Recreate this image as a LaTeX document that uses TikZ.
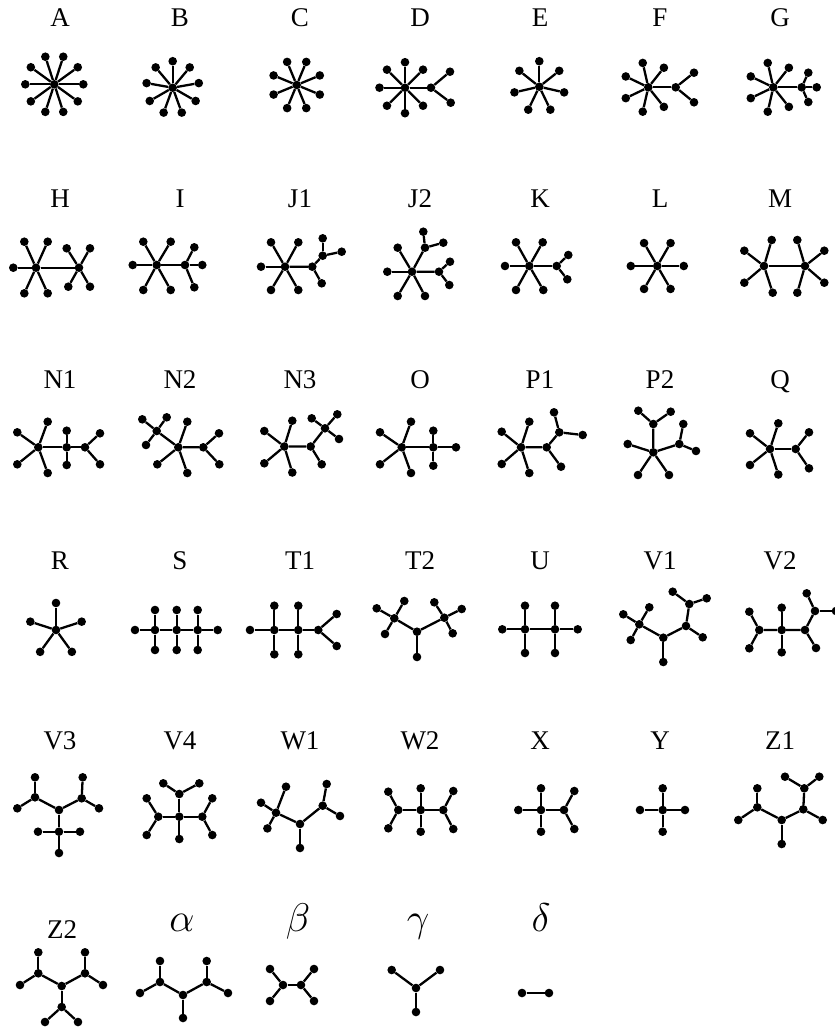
\RequirePackage{fix-cm}
\documentclass[tikz,border=0pt]{standalone}
\usepackage{fontspec}
\setmainfont{Liberation Serif}
\usetikzlibrary{calc}

\newcommand{\leafset}[2]{%
  \foreach \p [count=\i] in {#2} {\node[v] (#1\i) at \p {}; \draw[e] (#1) -- (#1\i);}}

\begin{document}
\begin{tikzpicture}[x=1pt,y=-1pt,v/.style={circle,fill=black,inner sep=0pt,minimum size=8.6pt},e/.style={line width=2.3pt},lab/.style={anchor=base,font=\fontsize{27}{30}\selectfont},glab/.style={anchor=base,font=\fontsize{40}{44}\selectfont}]
  \fill[white] (0,0) rectangle (835,1029);
  \useasboundingbox (0,0) rectangle (835,1029);
  \foreach \t [count=\i from 0] in {A,B,C,D,E,F,G} \node[lab] (l\t) at (60+120*\i,26) {\t};
  \foreach \t [count=\i from 0] in {H,I,J1,J2,K,L,M} \node[lab] (l\t) at (60+120*\i,207) {\t};
  \foreach \t [count=\i from 0] in {N1,N2,N3,O,P1,P2,Q} \node[lab] (l\t) at (60+120*\i,388) {\t};
  \foreach \t [count=\i from 0] in {R,S,T1,T2,U,V1,V2} \node[lab] (l\t) at (60+120*\i,569) {\t};
  \foreach \t [count=\i from 0] in {V3,V4,W1,W2,X,Y,Z1} \node[lab] (l\t) at (60+120*\i,749) {\t};
  \node[lab] (lZ2) at (62,938) {Z2};
  \node[glab] (lal) at (182,931) {$\alpha$};
  \node[glab] (lbe) at (298,931) {$\beta$};
  \node[glab] (lga) at (418,931) {$\gamma$};
  \node[glab] (lde) at (541,931) {$\delta$};
  % row 1
  \node[v] (A) at (54.3,84.3) {};
  \foreach \k in {1,...,10} {\node[v] (A\k) at ($(A)+(36*\k:29)$) {}; \draw[e] (A) -- (A\k);}
  \node[v] (B) at (172.7,87.7) {};
  \foreach \k in {1,...,9} {\node[v] (B\k) at ($(B)+(-90+40*\k:26.5)$) {}; \draw[e] (B) -- (B\k);}
  \node[v] (C) at (296.7,85) {};
  \foreach \k in {1,...,8} {\node[v] (C\k) at ($(C)+(-22.5+45*\k:25)$) {}; \draw[e] (C) -- (C\k);}
  \node[v] (D) at (405,87.7) {};
  \node[v] (Db) at (431,87.7) {};
  \foreach \k in {1,...,7} {\node[v] (D\k) at ($(D)+(45*\k:25.5)$) {}; \draw[e] (D) -- (D\k);}
  \draw[e] (D) -- (Db);
  \leafset{Db}{(450,71.7),(450.7,102.7)}
  \node[v] (E) at (539.3,86.7) {};
  \foreach \k in {1,...,7} {\node[v] (E\k) at ($(E)+(-90+360/7*\k:25.5)$) {}; \draw[e] (E) -- (E\k);}
  \node[v] (F) at (648.3,87.3) {};
  \node[v] (Fb) at (675.7,87.3) {};
  \foreach \k in {1,...,6} {\node[v] (F\k) at ($(F)+(360/7*\k:25)$) {}; \draw[e] (F) -- (F\k);}
  \draw[e] (F) -- (Fb);
  \leafset{Fb}{(694,72.7),(694,102.3)}
  \node[v] (G) at (773.3,87.3) {};
  \node[v] (Gb) at (801.7,87.3) {};
  \foreach \k in {1,...,6} {\node[v] (G\k) at ($(G)+(360/7*\k:25)$) {}; \draw[e] (G) -- (G\k);}
  \draw[e] (G) -- (Gb);
  \leafset{Gb}{(808.3,72.7),(816.7,87.3),(808.3,102)}
  % row 2
  \node[v] (H) at (36,267.7) {};
  \node[v] (Hb) at (79,267.7) {};
  \draw[e] (H) -- (Hb);
  \leafset{H}{(13.3,267.7),(24.3,241.7),(47.7,241.7),(24.3,293.3),(47.7,293.3)}
  \leafset{Hb}{(66.7,248.3),(90,248.3),(68.3,286.7),(90,286.7)}
  \node[v] (I) at (156.7,265) {};
  \node[v] (Ib) at (185,265) {};
  \draw[e] (I) -- (Ib);
  \leafset{I}{(132.7,265),(143.3,241.7),(170.7,241.7),(143.3,290),(170.7,290)}
  \leafset{Ib}{(194.3,247.3),(202.3,265),(194.3,287.3)}
  \node[v] (J1a) at (285,266.7) {};
  \node[v] (J1b) at (312.3,266.7) {};
  \node[v] (J1c) at (322.7,255.7) {};
  \draw[e] (J1a) -- (J1b) -- (J1c);
  \leafset{J1a}{(261,266.7),(271,242.3),(298.3,242.3),(271,290),(298.3,290)}
  \leafset{J1b}{(321.7,283.3)}
  \leafset{J1c}{(322.7,238.3),(341.7,251.7)}
  \node[v] (J2a) at (412,271.7) {};
  \node[v] (J2b) at (425,247.7) {};
  \node[v] (J2c) at (439,271.7) {};
  \draw[e] (J2b) -- (J2a) -- (J2c);
  \leafset{J2a}{(387.3,271.7),(397.7,247.7),(397.7,296),(425,296)}
  \leafset{J2b}{(423.3,231.7),(443.3,242.7)}
  \leafset{J2c}{(450,261.7),(449.3,285)}
  \node[v] (K) at (529.3,266) {};
  \node[v] (Kb) at (556.7,266) {};
  \draw[e] (K) -- (Kb);
  \leafset{K}{(505,266),(516,242.3),(542.7,242.3),(516,290),(543.3,290)}
  \leafset{Kb}{(568.3,255),(567.3,279.3)}
  \node[v] (L) at (657.3,266) {};
  \foreach \k in {1,...,6} {\node[v] (L\k) at ($(L)+(60*\k:26.5)$) {}; \draw[e] (L) -- (L\k);}
  \node[v] (M) at (764,266) {};
  \node[v] (Mb) at (805,266) {};
  \draw[e] (M) -- (Mb);
  \leafset{M}{(744.3,250.7),(744.3,282.7),(771.7,240),(772.7,292.7)}
  \leafset{Mb}{(797.3,240),(824.3,250.7),(824.3,282.7),(797.3,292.7)}
  % row 3
  \node[v] (N1a) at (38.3,447.3) {};
  \node[v] (N1b) at (66.7,447.3) {};
  \node[v] (N1c) at (85,447.3) {};
  \draw[e] (N1a) -- (N1b) -- (N1c);
  \leafset{N1a}{(17.3,432.3),(17.3,464.3),(47.7,421.7),(47.7,473)}
  \leafset{N1b}{(66.7,430.7),(66.7,465)}
  \leafset{N1c}{(100,433.3),(100,464.3)}
  \node[v] (N2a) at (156.7,431) {};
  \node[v] (N2b) at (178.3,447.3) {};
  \node[v] (N2c) at (203.3,447.3) {};
  \draw[e] (N2a) -- (N2b) -- (N2c);
  \leafset{N2a}{(142.3,419.3),(166.7,417.3),(146,445)}
  \leafset{N2b}{(187.3,421.7),(157.3,464.3),(187.3,473)}
  \leafset{N2c}{(219,433.3),(219.3,464.3)}
  \node[v] (N3a) at (284.3,446.5) {};
  \node[v] (N3b) at (310.7,446.5) {};
  \node[v] (N3c) at (325,428.3) {};
  \draw[e] (N3a) -- (N3b) -- (N3c);
  \leafset{N3a}{(264.3,431),(264.3,463.3),(292.3,420.7),(292.3,472.5)}
  \leafset{N3b}{(321.7,464.3)}
  \leafset{N3c}{(311.7,418.3),(337.3,414.3),(339,439)}
  \node[v] (Oa) at (401.7,447.3) {};
  \node[v] (Ob) at (433.3,447.3) {};
  \draw[e] (Oa) -- (Ob);
  \leafset{Oa}{(380,432.3),(380,464.3),(411,421.7),(411,473)}
  \leafset{Ob}{(433.3,430.7),(433.3,465.7),(456,447.3)}
  \node[v] (P1a) at (521,447.3) {};
  \node[v] (P1b) at (546.7,447.3) {};
  \node[v] (P1c) at (559.3,432.3) {};
  \draw[e] (P1a) -- (P1b) -- (P1c);
  \leafset{P1a}{(501.7,431.7),(501.7,464),(529.3,421.7),(529.3,473)}
  \leafset{P1b}{(561,466.7)}
  \leafset{P1c}{(554,412.3),(582.7,435)}
  \node[v] (P2a) at (653.3,452.3) {};
  \node[v] (P2b) at (653.3,424) {};
  \node[v] (P2c) at (679.3,444) {};
  \draw[e] (P2b) -- (P2a) -- (P2c);
  \leafset{P2a}{(627.7,444),(638,475),(669,475)}
  \leafset{P2b}{(638.3,410.7),(670.7,411.7)}
  \leafset{P2c}{(683.3,424),(696,451)}
  \node[v] (Qa) at (770,449) {};
  \node[v] (Qb) at (795.7,449) {};
  \draw[e] (Qa) -- (Qb);
  \leafset{Qa}{(750,433.3),(750,465),(778.3,423.3),(778.3,474.5)}
  \leafset{Qb}{(809,432.3),(809,468.3)}
  % row 4
  \node[v] (R) at (56,630) {};
  \foreach \k in {1,...,5} {\node[v] (R\k) at ($(R)+(-90+72*\k:27)$) {}; \draw[e] (R) -- (R\k);}
  \node[v] (Sa) at (155,630) {};
  \node[v] (Sb) at (176.7,630) {};
  \node[v] (Sc) at (197.7,630) {};
  \draw[e] (Sa) -- (Sb) -- (Sc);
  \leafset{Sa}{(135,630),(155,610),(155,650)}
  \leafset{Sb}{(176.7,610),(176.7,650)}
  \leafset{Sc}{(197.7,610),(197.7,650),(217.7,630)}
  \node[v] (T1a) at (274.3,630) {};
  \node[v] (T1b) at (298.3,630) {};
  \node[v] (T1c) at (318.3,630) {};
  \draw[e] (T1a) -- (T1b) -- (T1c);
  \leafset{T1a}{(250,630),(274.3,605.7),(274.3,654.3)}
  \leafset{T1b}{(298.3,605.7),(298.3,654.3)}
  \leafset{T1c}{(336.7,614),(336.7,646)}
  \node[v] (T2a) at (394.3,618.3) {};
  \node[v] (T2b) at (417,631.7) {};
  \node[v] (T2c) at (444.3,617.7) {};
  \draw[e] (T2a) -- (T2b) -- (T2c);
  \leafset{T2a}{(376.7,608.3),(404.3,601),(385,634)}
  \leafset{T2b}{(417,657)}
  \leafset{T2c}{(434.3,602.3),(461.7,609),(452.7,633.3)}
  \node[v] (Ua) at (525,629.3) {};
  \node[v] (Ub) at (555,629.3) {};
  \draw[e] (Ua) -- (Ub);
  \leafset{Ua}{(502.3,629.3),(525,605.7),(525,653)}
  \leafset{Ub}{(555,605.7),(555,653),(577.7,629.3)}
  \node[v] (V1a) at (639.3,624.3) {};
  \node[v] (V1b) at (663.3,637.7) {};
  \node[v] (V1c) at (686,626) {};
  \node[v] (V1d) at (689.3,604) {};
  \draw[e] (V1a) -- (V1b) -- (V1c) -- (V1d);
  \leafset{V1a}{(623.3,614.3),(649.3,607.3),(630.7,640)}
  \leafset{V1b}{(663.3,662)}
  \leafset{V1c}{(702.7,637.3)}
  \leafset{V1d}{(672.7,591.7),(706.7,598.3)}
  \node[v] (V2a) at (759.3,630) {};
  \node[v] (V2b) at (781.7,630) {};
  \node[v] (V2c) at (805,630) {};
  \node[v] (V2d) at (815,611) {};
  \draw[e] (V2a) -- (V2b) -- (V2c) -- (V2d);
  \leafset{V2a}{(749.3,611.7),(749.3,648.3)}
  \leafset{V2b}{(781.7,607.7),(781.7,652.3)}
  \leafset{V2c}{(816,648)}
  \leafset{V2d}{(806.7,593.3),(836,611)}
  % row 5
  \node[v] (V3a) at (35,797.3) {};
  \node[v] (V3b) at (59,810) {};
  \node[v] (V3c) at (81.7,798.3) {};
  \node[v] (V3d) at (59,831.7) {};
  \draw[e] (V3a) -- (V3b) -- (V3c);
  \draw[e] (V3b) -- (V3d);
  \leafset{V3a}{(35,777.3),(17.3,808.3)}
  \leafset{V3c}{(82.7,777.3),(99,808.3)}
  \leafset{V3d}{(38,831.7),(80,831.7),(59,853)}
  \node[v] (V4a) at (158.3,816.7) {};
  \node[v] (V4b) at (179.3,816.7) {};
  \node[v] (V4c) at (202.3,816.7) {};
  \node[v] (V4d) at (179.3,794) {};
  \draw[e] (V4a) -- (V4b) -- (V4c);
  \draw[e] (V4b) -- (V4d);
  \leafset{V4a}{(146.7,798.3),(146.7,835)}
  \leafset{V4b}{(179.3,839)}
  \leafset{V4c}{(212.3,798.3),(212.3,835)}
  \leafset{V4d}{(163.3,783.3),(199.3,783.3)}
  \node[v] (W1a) at (276,812.7) {};
  \node[v] (W1b) at (300,824) {};
  \node[v] (W1c) at (322.7,805.7) {};
  \draw[e] (W1a) -- (W1b) -- (W1c);
  \leafset{W1a}{(261,802.7),(286,786.7),(267.4,828.4)}
  \leafset{W1b}{(300,848)}
  \leafset{W1c}{(326.7,784),(340,816)}
  \node[v] (W2a) at (398.3,810) {};
  \node[v] (W2b) at (420.7,810) {};
  \node[v] (W2c) at (443.3,810) {};
  \draw[e] (W2a) -- (W2b) -- (W2c);
  \leafset{W2a}{(388.3,791.7),(388.3,828.3)}
  \leafset{W2b}{(420.7,788.3),(420.7,831.7)}
  \leafset{W2c}{(453.3,791),(453.3,829)}
  \node[v] (Xa) at (541,810) {};
  \node[v] (Xb) at (564,810) {};
  \draw[e] (Xa) -- (Xb);
  \leafset{Xa}{(518.3,810),(541,788.3),(541,831.7)}
  \leafset{Xb}{(574.3,791),(574.3,829)}
  \node[v] (Y) at (662.7,810) {};
  \leafset{Y}{(640,810),(685,810),(662.7,788.3),(662.7,831.7)}
  \node[v] (Z1a) at (757.3,807.3) {};
  \node[v] (Z1b) at (781.7,820) {};
  \node[v] (Z1c) at (803.3,809.3) {};
  \node[v] (Z1d) at (804.3,788.3) {};
  \draw[e] (Z1a) -- (Z1b) -- (Z1c) -- (Z1d);
  \leafset{Z1a}{(757.3,788.3),(738.3,820)}
  \leafset{Z1b}{(781.7,844)}
  \leafset{Z1c}{(822.7,820)}
  \leafset{Z1d}{(785,776.7),(819.3,776.7)}
  % row 6
  \node[v] (Z2a) at (38.3,973.3) {};
  \node[v] (Z2b) at (61.7,986) {};
  \node[v] (Z2c) at (85,973.3) {};
  \node[v] (Z2d) at (61.7,1007) {};
  \draw[e] (Z2a) -- (Z2b) -- (Z2c);
  \draw[e] (Z2b) -- (Z2d);
  \leafset{Z2a}{(38.3,952.3),(20,985)}
  \leafset{Z2c}{(85,952.3),(103,985)}
  \leafset{Z2d}{(45,1022),(78,1022)}
  \node[v] (ala) at (160,982) {};
  \node[v] (alb) at (183,995) {};
  \node[v] (alc) at (206.7,982) {};
  \draw[e] (ala) -- (alb) -- (alc);
  \leafset{ala}{(160,961),(140,993)}
  \leafset{alb}{(183,1018)}
  \leafset{alc}{(206.7,961),(228,993)}
  \node[v] (bea) at (283,985) {};
  \node[v] (beb) at (301,985) {};
  \draw[e] (bea) -- (beb);
  \leafset{bea}{(270,969),(270,1001)}
  \leafset{beb}{(314,969),(314,1001)}
  \node[v] (ga) at (416,988) {};
  \leafset{ga}{(391.7,970),(440,970),(416,1012)}
  \node[v] (dea) at (522,993) {};
  \node[v] (deb) at (549,993) {};
  \draw[e] (dea) -- (deb);
\end{tikzpicture}
\end{document}
